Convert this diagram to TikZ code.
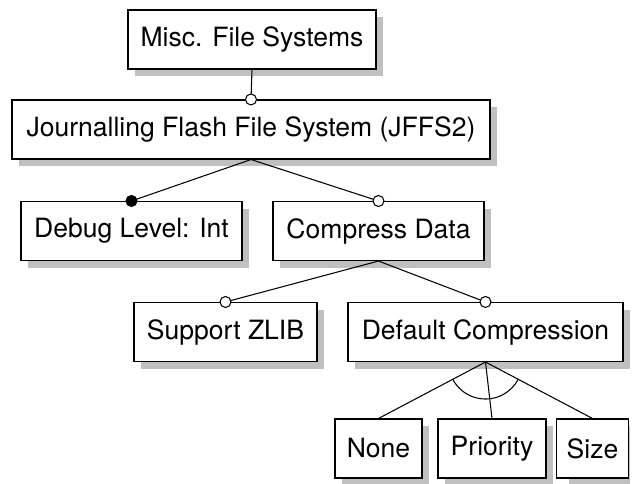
\documentclass[tikz,border=0pt]{standalone}
\usepackage{fontspec}
\setmainfont{TeX Gyre Heros}
\usepackage{tikz}
\usetikzlibrary{arrows,positioning,calc}
\definecolor{shadegray}{RGB}{192,192,192}

\tikzset{
  feature/.style={draw, fill=white, line width=0.6pt, minimum height=1.18cm,
    inner xsep=0.2cm, font=\fontsize{15.1}{18}\selectfont},
  backbox/.style={fill=shadegray, minimum height=1.18cm, inner sep=0pt},
  link/.style={line width=0.6pt},
  optional/.style={draw, fill=white, line width=0.6pt},
  mandatory/.style={draw, fill=black, line width=0.6pt},
}

\begin{document}
\begin{tikzpicture}
    \useasboundingbox (0,0) rectangle (12.66,-9.66);

    % shadows first, then the boxes over them
    \foreach \x/\y/\w in {5.04/-0.79/4.96, 5.02/-2.59/9.56, 2.63/-4.62/4.42, 7.57/-4.62/4.22,
        4.51/-6.64/3.66, 9.71/-6.64/5.5, 7.57/-8.97/1.74, 9.84/-8.97/2.16, 11.85/-8.97/1.22}
        \node [backbox, minimum width=\w cm] at (\x+0.14,\y-0.14) {};

    \node [feature, minimum width=4.96cm] (misc) at (5.04,-0.79) {Misc. File Systems};
    \node [feature, minimum width=9.56cm] (jffs) at (5.02,-2.59) {Journalling Flash File System (JFFS2)};
    \node [feature, minimum width=4.42cm] (debug) at (2.63,-4.62) {Debug Level: Int};
    \node [feature, minimum width=4.22cm] (compress) at (7.57,-4.62) {Compress Data};
    \node [feature, minimum width=3.66cm] (zlib) at (4.51,-6.64) {Support ZLIB};
    \node [feature, minimum width=5.5cm] (defcomp) at (9.71,-6.64) {Default Compression};
    \node [feature, minimum width=1.74cm] (none) at (7.57,-8.97) {None};
    \node [feature, minimum width=2.16cm] (priority) at (9.84,-8.97) {Priority};
    \node [feature, minimum width=1.22cm] (size) at (11.85,-8.97) {Size};

    % parent to child
    \draw [link] (misc.south) -- (jffs.north);
    \draw [link] (jffs.south) -- (debug.north);
    \draw [link] (jffs.south) -- (compress.north);
    \draw [link] (compress.south) -- (zlib.north);
    \draw [link] (compress.south) -- (defcomp.north);
    \draw [link] (defcomp.south) -- (none.north);
    \draw [link] (defcomp.south) -- (priority.north);
    \draw [link] (defcomp.south) -- (size.north);

    % alternative group
    \draw [link] ([shift={(208:0.74)}]defcomp.south) arc (208:332:0.74);

    \draw [optional] (jffs.north) circle (0.11);
    \draw [mandatory] (debug.north) circle (0.11);
    \draw [optional] (compress.north) circle (0.11);
    \draw [optional] (zlib.north) circle (0.11);
    \draw [optional] (defcomp.north) circle (0.11);

\end{tikzpicture}
\end{document}
